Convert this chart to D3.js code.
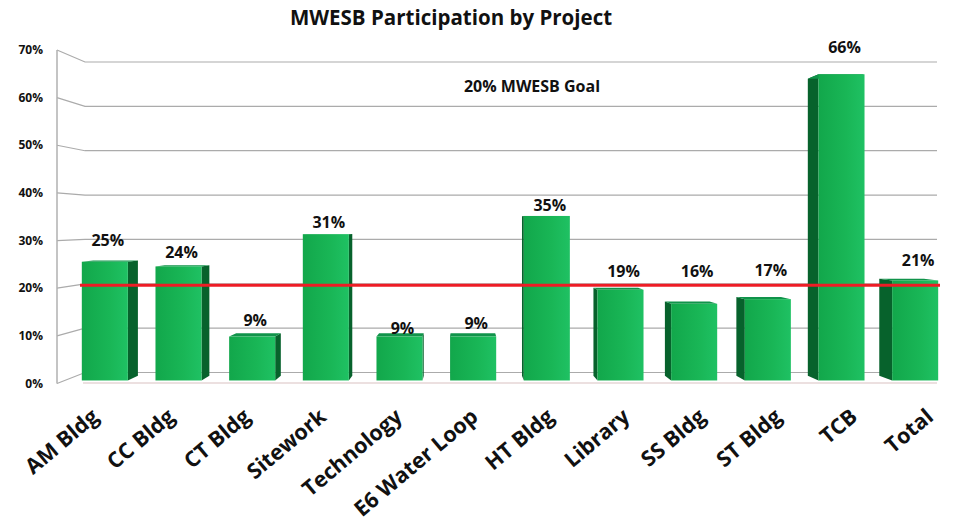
<!DOCTYPE html>
<html>
<head>
<meta charset="utf-8">
<script src="https://cdn.jsdelivr.net/npm/d3@7"></script>
<style>
	body { margin: 0; background: #fff; }
	text { font-family: "Open Sans", Lato, sans-serif; font-weight: bold; fill: #111; }
</style>
</head>
<body>
<section></section>
<script>
var categories = ["AM Bldg", "CC Bldg", "CT Bldg", "Sitework", "Technology", "E6 Water Loop", "HT Bldg", "Library", "SS Bldg", "ST Bldg", "TCB", "Total"];
var participation = [25.4, 24.4, 9.4, 31.3, 9.4, 9.4, 35.2, 19.4, 16.4, 17.4, 65.5, 21.4];
var yTicks = [0, 10, 20, 30, 40, 50, 60, 70];
var goalValue = 20;
var goalLabel = "20% MWESB Goal";
var chartTitle = "MWESB Participation by Project";

//	how far each value label sits above its bar (hand placed in the original)
var labelLift = [21, 14, 16, 12, 8, 13, 11, 18, 32, 29, 27, 20];

var width = 958, height = 522;

//	perspective: everything recedes towards this point
var vp = {x: 463, y: 224};
var dWall = 0.069,	//	depth of back wall
	dBar = 0.019,	//	depth of bar front face
	dBarBack = 0.049,
	dGoal = 0.045;

function toBack(p, t) {
	return [p[0] + t * (vp.x - p[0]), p[1] + t * (vp.y - p[1])];
}

function pts(arr) {
	return arr.map(function(p){return p.join(",")}).join(" ");
}

var svg = d3.select("section").append("svg").attr("width", width).attr("height", height);

var y = d3.scaleLinear().domain([0, 70]).range([383.5, 50]);
var x = d3.scaleBand().domain(categories).range([68, 952]).paddingInner(0.375).paddingOuter(0.1875);

var defs = svg.append("defs");
var gFront = defs.append("linearGradient").attr("id", "front").attr("x1", 0).attr("x2", 1);
gFront.append("stop").attr("offset", "0%").attr("stop-color", "#12a74b");
gFront.append("stop").attr("offset", "60%").attr("stop-color", "#19b656");
gFront.append("stop").attr("offset", "100%").attr("stop-color", "#1fc163");

//	title
svg.append("text").attr("x", 451).attr("y", 25).attr("text-anchor", "middle")
	.style("font-size", "20.5px").text(chartTitle);

//	gridlines: slanted on the left wall, then flat along the back wall
var grid = svg.append("g");
yTicks.forEach(function(v) {
	var p0 = [57, y(v)];
	var p1 = toBack(p0, dWall);
	grid.append("polyline")
		.attr("points", pts([p0, p1, [937, p1[1]]]))
		.attr("fill", "none").attr("stroke", "#ababab").attr("stroke-width", 1.2);
});

//	left axis and front floor edge
svg.append("line").attr("x1", 57).attr("x2", 57).attr("y1", y(70)).attr("y2", y(0))
	.attr("stroke", "#b0b0b0").attr("stroke-width", 1.5);
svg.append("line").attr("x1", 83).attr("x2", 937).attr("y1", 383).attr("y2", 383)
	.attr("stroke", "#d9c2c2").attr("stroke-width", 1.2);

//	y axis labels
svg.append("g").selectAll("text").data(yTicks).enter().append("text")
	.attr("x", 43).attr("y", function(d){return y(d);}).attr("dy", "0.35em")
	.attr("text-anchor", "end").style("font-size", "12px")
	.text(function(d){return d + "%";});

//	bars
var bars = svg.append("g").selectAll("g").data(categories).enter().append("g");

bars.each(function(cat, i) {
	var g = d3.select(this);
	var x0 = x(cat), x1 = x(cat) + x.bandwidth();
	var tl = toBack([x0, y(participation[i])], dBar),
		tr = toBack([x1, y(participation[i])], dBar),
		bl = toBack([x0, y(0)], dBar),
		br = toBack([x1, y(0)], dBar);
	//	keep front face rectangular
	tl[0] = x0; bl[0] = x0; tr[0] = x1; br[0] = x1;
	var d = dBarBack - dBar;

	//	visible side face
	var sideFront = (x0 + x1) / 2 < vp.x ? [tr, br] : [tl, bl];
	var side = [sideFront[0], toBack(sideFront[0], d), toBack(sideFront[1], d), sideFront[1]];
	g.append("polygon").attr("points", pts(side)).attr("fill", "#07622c");

	//	top face
	var top = [tl, tr, toBack(tr, d), toBack(tl, d)];
	g.append("polygon").attr("points", pts(top)).attr("fill", "#10934a");

	//	front face
	g.append("rect").attr("x", x0).attr("y", tl[1]).attr("width", x1 - x0).attr("height", bl[1] - tl[1])
		.attr("fill", "url(#front)");

	//	value label
	g.append("text").attr("x", (x0 + x1) / 2 + 3).attr("y", tl[1] - labelLift[i]).attr("dy", "0.35em")
		.attr("text-anchor", "middle").style("font-size", "16px")
		.text(Math.round(participation[i]) + "%");
});

//	goal line
var gl = toBack([0, y(goalValue)], dGoal);
svg.append("line").attr("x1", 80).attr("x2", 940).attr("y1", gl[1]).attr("y2", gl[1])
	.attr("stroke", "#ee1c25").attr("stroke-width", 3);

svg.append("text").attr("x", 532).attr("y", 92).attr("text-anchor", "middle")
	.style("font-size", "16px").text(goalLabel);

//	category labels, spread slightly as if on the front plane
svg.append("g").selectAll("text").data(categories).enter().append("text")
	.attr("text-anchor", "end").style("font-size", "21.5px")
	.attr("transform", function(d){
		var c = x(d) + x.bandwidth() / 2;
		var lx = vp.x + (c - vp.x) * 1.03 + 6;
		return "translate(" + lx + ",419) rotate(-40)";
	})
	.text(function(d){return d;});
</script>
</body>
</html>
